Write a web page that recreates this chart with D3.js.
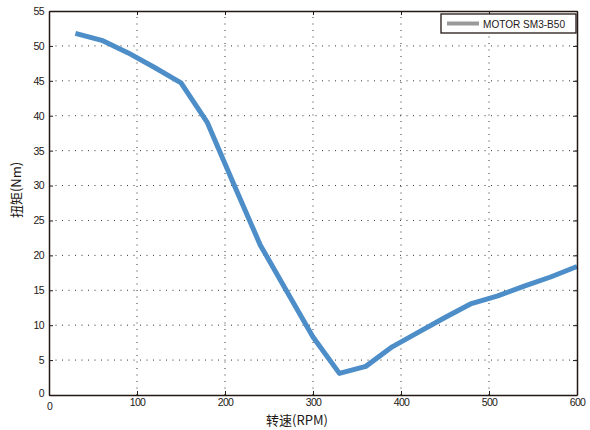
<!DOCTYPE html>
<html><head><meta charset="utf-8">
<script src="https://cdn.jsdelivr.net/npm/d3@7"></script>
<style>
body{margin:0;background:#fff;}
text{font-family:"Liberation Sans",sans-serif;}
</style></head>
<body><svg id="c" width="590" height="430"></svg>
<script>
const speeds = [30,60,90,120,150,180,210,240,270,300,330,360,390,420,450,480,510,540,570,600];
const torque = [51.8,50.8,49.0,46.9,44.7,39.0,30.2,21.5,14.9,8.3,3.1,4.1,6.9,9.0,11.1,13.1,14.2,15.6,16.9,18.4];
const xTicks = [0,100,200,300,400,500,600];
const yTicks = [0,5,10,15,20,25,30,35,40,45,50,55];
const seriesName = "MOTOR SM3-B50";
const xLabel = "转速(RPM)";
const yLabel = "扭矩(Nm)";

const svg = d3.select("#c");
const L=49, R=577, T=11, B=395;
const x = d3.scaleLinear().domain([0,600]).range([L,R]);
const y = d3.scaleLinear().domain([0,55]).range([B,T]);
const axisCol="#231815";

// grid
const g = svg.append("g");
g.selectAll(".gx").data(xTicks.slice(1,-1)).enter().append("line")
 .attr("x1",d=>x(d)).attr("x2",d=>x(d)).attr("y1",B).attr("y2",T)
 .attr("stroke","#333").attr("stroke-width",1).attr("stroke-dasharray","1,5.5");
g.selectAll(".gy").data(yTicks.slice(1,-1)).enter().append("line")
 .attr("y1",d=>y(d)).attr("y2",d=>y(d)).attr("x1",L).attr("x2",R)
 .attr("stroke","#333").attr("stroke-width",1).attr("stroke-dasharray","1,5.5");

// line
svg.append("path").datum(speeds.map((s,i)=>[s,torque[i]]))
 .attr("fill","none").attr("stroke","#4d8ec9").attr("stroke-width",5)
 .attr("stroke-linejoin","round").attr("stroke-linecap","butt")
 .attr("d",d3.line().x(d=>x(d[0])).y(d=>y(d[1])));

// axes (inward ticks on all sides)
const ax = svg.append("g").attr("transform",`translate(0,${B})`).call(d3.axisBottom(x).tickValues(xTicks).tickSizeInner(-4).tickSizeOuter(0).tickPadding(4));
const axT = svg.append("g").attr("transform",`translate(0,${T})`).call(d3.axisTop(x).tickValues(xTicks).tickSizeInner(-4).tickSizeOuter(0).tickFormat(""));
const ay = svg.append("g").attr("transform",`translate(${L},0)`).call(d3.axisLeft(y).tickValues(yTicks).tickSizeInner(-4).tickSizeOuter(0).tickPadding(5));
const ayR = svg.append("g").attr("transform",`translate(${R},0)`).call(d3.axisRight(y).tickValues(yTicks).tickSizeInner(-4).tickSizeOuter(0).tickFormat(""));
[ax,axT,ay,ayR].forEach(a=>{
  a.selectAll("path").attr("stroke",axisCol).attr("stroke-width",1.5);
  a.selectAll("line").attr("stroke",axisCol);
  a.selectAll("text").attr("fill","#231815").style("font-size","10.5px")
   .style("letter-spacing","-0.6px").style("font-family","'Liberation Sans',sans-serif");
});
ax.selectAll(".tick").filter(d=>d===0).select("text").attr("dy","1.0em");
ay.selectAll(".tick").filter(d=>d===0).select("text").attr("dy","0.1em");

// axis labels
svg.append("text").attr("x",297).attr("y",425).attr("text-anchor","middle")
 .style("font-size","13px").style("font-family","'Noto Sans CJK SC',sans-serif").attr("fill","#231815").text(xLabel);
svg.append("text").attr("transform",`translate(21,190) rotate(-90)`).attr("text-anchor","middle")
 .style("font-size","13px").style("font-family","'Noto Sans CJK SC',sans-serif").attr("fill","#231815").text(yLabel);

// legend
const lg = svg.append("g");
lg.append("rect").attr("x",441).attr("y",14).attr("width",135).attr("height",19)
 .attr("fill","#fff").attr("stroke",axisCol).attr("stroke-width",1.3);
lg.append("line").attr("x1",447).attr("x2",479).attr("y1",23.5).attr("y2",23.5)
 .attr("stroke","#9a9a9a").attr("stroke-width",4);
lg.append("text").attr("x",483).attr("y",27.5).style("font-size","11px")
 .attr("textLength",82).attr("lengthAdjust","spacingAndGlyphs").attr("fill","#231815").text(seriesName);
</script></body></html>
